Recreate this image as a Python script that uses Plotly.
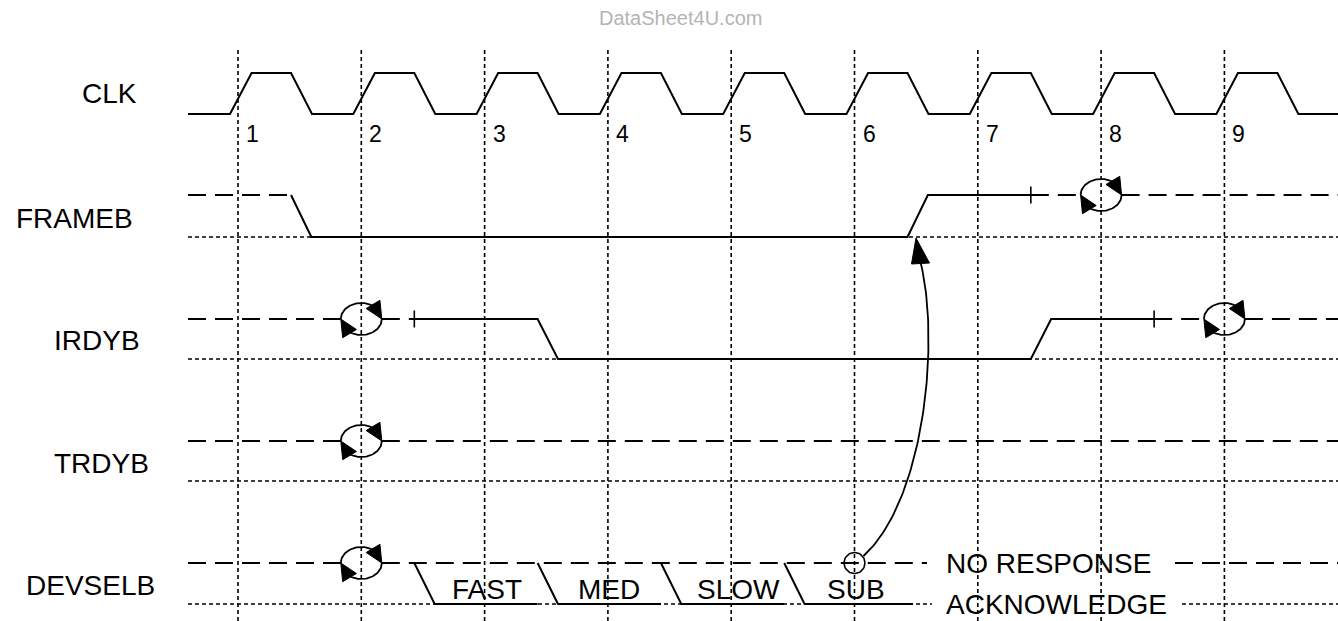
import numpy as np
import plotly.graph_objects as go

# ---------------- data ----------------
W, H = 1338, 621
EDGE1_PX = 238.0          # pixel x of clock edge 1
PERIOD_PX = 123.3         # pixels per clock period

def px2t(px):
    return 1 + (px - EDGE1_PX) / PERIOD_PX

def t2px(t):
    return EDGE1_PX + (t - 1) * PERIOD_PX

edges = [1, 2, 3, 4, 5, 6, 7, 8, 9]
edge_labels = ["1", "2", "3", "4", "5", "6", "7", "8", "9"]

signal_names = ["CLK", "FRAMEB", "IRDYB", "TRDYB", "DEVSELB"]
label_left_px = [80, 14, 52, 52, 24]
label_y = [93, 218, 340, 463, 585]
level_high = [73, 195, 319, 441, 563]
level_low = [114, 237, 359, 481, 604]

T_START = px2t(188)
T_END = px2t(1338)

# clock shape (fractions of a period relative to each edge)
clk_rise = (-0.065, 0.11)
clk_fall = (0.43, 0.60)

# transition timing of signals (relative to edge)
TR0, TR1 = 0.43, 0.595

# waveforms: solid polylines given as (time, 'H'/'L')
frameb_solid = [[(1 + TR0, "H"), (1 + TR1, "L"), (6 + TR0, "L"), (6 + TR1, "H"), (7 + TR0, "H")]]
frameb_dashed = [(T_START, 1 + TR0), (7 + TR0, T_END)]
frameb_ticks = [7 + TR0]
frameb_sync = [8]

irdyb_solid = [[(2 + TR0, "H"), (3 + TR0, "H"), (3 + TR1, "L"), (7 + TR0, "L"), (7 + TR1, "H"), (8 + TR0, "H")]]
irdyb_dashed = [(T_START, 2 + TR0), (8 + TR0, T_END)]
irdyb_ticks = [2 + TR0, 8 + TR0]
irdyb_sync = [2, 9]

trdyb_solid = []
trdyb_dashed = [(T_START, T_END)]
trdyb_ticks = []
trdyb_sync = [2]

devsel_solid = [
    [(2 + TR0, "H"), (2 + TR1, "L"), (3 + TR0, "L")],
    [(3 + TR0, "H"), (3 + TR1, "L"), (4 + TR0, "L")],
    [(4 + TR0, "H"), (4 + TR1, "L"), (5 + TR0, "L")],
    [(5 + TR0, "H"), (5 + TR1, "L"), (px2t(913), "L")],
]
devsel_dashed = [(T_START, px2t(927)), (px2t(1175), T_END)]
devsel_ticks = []
devsel_sync = [2]
devsel_low_spans = [(T_START, px2t(932)), (px2t(1182), T_END)]

speed_labels = ["FAST", "MED", "SLOW", "SUB"]
speed_x_px = [487, 609, 738, 856]
speed_y = 589

response_text = ["NO RESPONSE", "ACKNOWLEDGE"]
response_left_px = 944

sample_point_t = 6.0   # DEVSELB sampled at edge 6

# ---------------- figure ----------------
fig = go.Figure()
BLACK = "black"
SW = 2.0
FS = 28

def add_line(xs, ys, dash="solid", width=SW):
    fig.add_trace(go.Scatter(x=xs, y=ys, mode="lines", hoverinfo="skip",
                             line=dict(color=BLACK, width=width, dash=dash),
                             showlegend=False))

def add_tri(pts):
    xs = [px2t(p[0]) for p in pts] + [px2t(pts[0][0])]
    ys = [p[1] for p in pts] + [pts[0][1]]
    fig.add_trace(go.Scatter(x=xs, y=ys, mode="lines", fill="toself",
                             fillcolor=BLACK, line=dict(color=BLACK, width=1),
                             hoverinfo="skip", showlegend=False))

def arrow_head(tip, base_mid, half_w):
    dx, dy = tip[0] - base_mid[0], tip[1] - base_mid[1]
    L = np.hypot(dx, dy)
    nx, ny = -dy / L, dx / L
    return [tip, (base_mid[0] + nx * half_w, base_mid[1] + ny * half_w),
            (base_mid[0] - nx * half_w, base_mid[1] - ny * half_w)]

RX, RY = 20.5, 16.0

def sync_symbol(t, cy):
    cx = t2px(t)
    th = np.radians(np.linspace(180, 55, 40))
    add_line([px2t(v) for v in cx + RX * np.cos(th)], list(cy - RY * np.sin(th)), width=1.8)
    add_tri(arrow_head((cx + RX, cy), (cx + RX * np.cos(np.radians(55)), cy - RY * np.sin(np.radians(55)) - 1.5), 8))
    th = np.radians(np.linspace(0, -125, 40))
    add_line([px2t(v) for v in cx + RX * np.cos(th)], list(cy - RY * np.sin(th)), width=1.8)
    add_tri(arrow_head((cx - RX, cy), (cx + RX * np.cos(np.radians(-125)), cy - RY * np.sin(np.radians(-125)) + 1.5), 8))

# vertical clock-edge grid
for e in edges:
    fig.add_shape(type="line", x0=e, x1=e, y0=50, y1=H, xref="x", yref="y",
                  line=dict(color=BLACK, width=1.6, dash="4px,3px"), layer="below")

# clock waveform
cx_pts, cy_pts = [T_START], [level_low[0]]
for e in edges:
    cx_pts += [e + clk_rise[0], e + clk_rise[1], e + clk_fall[0], e + clk_fall[1]]
    cy_pts += [level_low[0], level_high[0], level_high[0], level_low[0]]
cx_pts.append(T_END); cy_pts.append(level_low[0])
add_line(cx_pts, cy_pts)

sig_defs = [
    (1, frameb_solid, frameb_dashed, frameb_ticks, frameb_sync, [(T_START, T_END)]),
    (2, irdyb_solid, irdyb_dashed, irdyb_ticks, irdyb_sync, [(T_START, T_END)]),
    (3, trdyb_solid, trdyb_dashed, trdyb_ticks, trdyb_sync, [(T_START, T_END)]),
    (4, devsel_solid, devsel_dashed, devsel_ticks, devsel_sync, devsel_low_spans),
]

half_sync = RX / PERIOD_PX
for idx, solid, dashed, ticks, syncs, lows in sig_defs:
    hi, lo = level_high[idx], level_low[idx]
    for a, b in lows:
        add_line([a, b], [lo, lo], dash="4px,3px", width=1.6)
    for a, b in dashed:
        cuts = sorted(s for s in syncs if a < s < b)
        start = a
        for s in cuts:
            add_line([start, s - half_sync], [hi, hi], dash="18px,9px")
            start = s + half_sync
        add_line([start, b], [hi, hi], dash="18px,9px")
    for poly in solid:
        add_line([p[0] for p in poly], [hi if p[1] == "H" else lo for p in poly])
    for tk in ticks:
        add_line([tk, tk], [hi - 8.5, hi + 8.5], width=1.6)
    for s in syncs:
        sync_symbol(s, hi)

# sample circle on DEVSELB at edge 6
scx, scy, sr = t2px(sample_point_t), level_high[4], 10.5
th = np.linspace(0, 2 * np.pi, 60)
add_line([px2t(v) for v in scx + sr * np.cos(th)], list(scy + sr * np.sin(th)), width=1.6)

# causal curve arrow to FRAMEB rising edge
P0 = np.array([scx + 9, scy - 7])
P1 = np.array([925.0, 500.0])
P2 = np.array([940.0, 340.0])
P3 = np.array([920.5, 262.0])
tt = np.linspace(0, 1, 80)[:, None]
bez = (1 - tt) ** 3 * P0 + 3 * (1 - tt) ** 2 * tt * P1 + 3 * (1 - tt) * tt ** 2 * P2 + tt ** 3 * P3
add_line([px2t(v) for v in bez[:, 0]], list(bez[:, 1]), width=1.8)
add_tri([(916.0, 238.0), (911.5, 264.0), (929.5, 263.0)])

# annotations
ann = []
for name, lx, ly in zip(signal_names, label_left_px, label_y):
    ann.append(dict(x=lx / W, xref="paper", y=ly, yref="y", text=name, showarrow=False,
                    xanchor="left", yanchor="middle", font=dict(size=FS, color=BLACK)))
for e, lab in zip(edges, edge_labels):
    ann.append(dict(x=e + 6 / PERIOD_PX, y=134, xref="x", yref="y", text=lab, showarrow=False,
                    xanchor="left", yanchor="middle", font=dict(size=23, color=BLACK)))
for lab, xp in zip(speed_labels, speed_x_px):
    ann.append(dict(x=px2t(xp), y=speed_y, xref="x", yref="y", text=lab, showarrow=False,
                    xanchor="center", yanchor="middle", font=dict(size=FS, color=BLACK)))
ann.append(dict(x=px2t(response_left_px), y=level_high[4], xref="x", yref="y", text=response_text[0],
                showarrow=False, xanchor="left", yanchor="middle", font=dict(size=FS, color=BLACK)))
ann.append(dict(x=px2t(response_left_px), y=level_low[4], xref="x", yref="y", text=response_text[1],
                showarrow=False, xanchor="left", yanchor="middle", font=dict(size=FS, color=BLACK)))
ann.append(dict(x=680 / W, xref="paper", y=18, yref="y", text="DataSheet4U.com", showarrow=False,
                xanchor="center", yanchor="middle", font=dict(size=20, color="#b4b4b4")))

fig.update_layout(
    width=W, height=H, margin=dict(l=0, r=0, t=0, b=0),
    paper_bgcolor="white", plot_bgcolor="white",
    font=dict(family="Liberation Sans, Arial, sans-serif"),
    xaxis=dict(range=[px2t(0), px2t(W)], visible=False, fixedrange=True),
    yaxis=dict(range=[H, 0], visible=False, fixedrange=True),
    annotations=ann, showlegend=False,
)

fig.write_html("out.html",
               config={"displayModeBar": False},
               post_script="document.body.style.margin='0px';document.body.style.overflow='hidden';")
